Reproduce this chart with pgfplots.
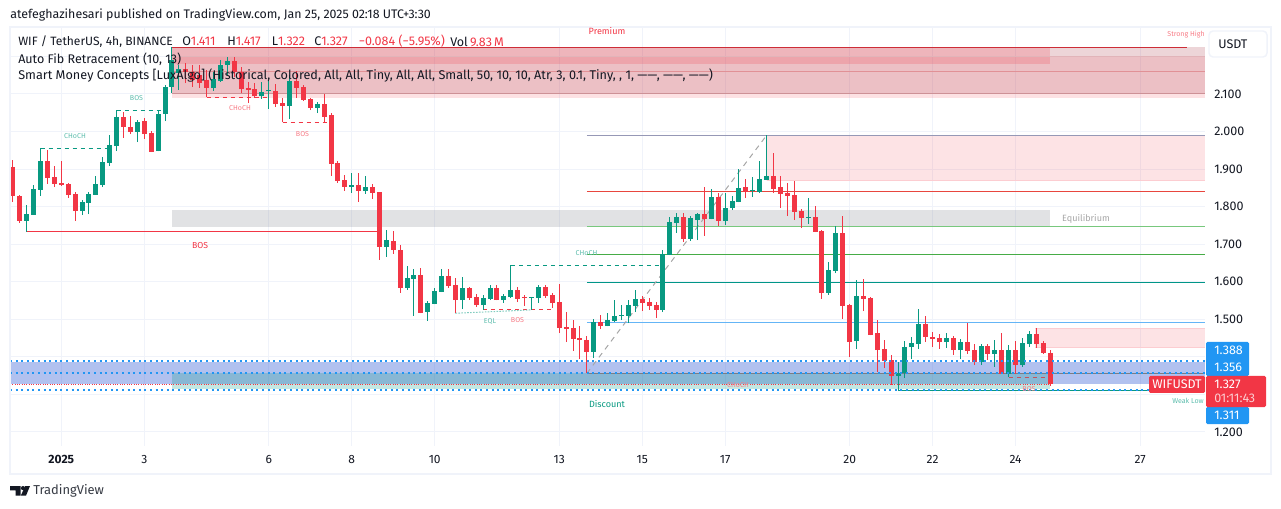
\documentclass[border=0pt]{standalone}
\usepackage{fontspec}
\setmainfont{Fira Sans}
\usepackage{pgfplots}
\usepackage{pgfplotstable}
\pgfplotsset{compat=1.18}
\definecolor{up}{RGB}{8,153,129}
\definecolor{down}{RGB}{242,54,69}
\definecolor{tvblue}{RGB}{33,150,243}
\definecolor{gridc}{RGB}{240,243,250}
\definecolor{ink}{RGB}{19,23,34}

% 4h candles, i = 0 is the Jan 1 tick
\pgfplotstableread{
i O H L C
-7 1.906 1.924 1.813 1.827
-6 1.828 1.830 1.757 1.763
-5 1.763 1.804 1.733 1.780
-4 1.778 1.858 1.778 1.847
-3 1.845 1.956 1.829 1.922
-2 1.922 1.951 1.861 1.877
-1 1.879 1.908 1.852 1.861
0 1.863 1.922 1.855 1.858
1 1.860 1.863 1.823 1.832
2 1.834 1.839 1.762 1.788
3 1.788 1.818 1.778 1.812
4 1.810 1.839 1.780 1.834
5 1.831 1.882 1.831 1.860
6 1.858 1.932 1.852 1.919
7 1.916 1.991 1.908 1.964
8 1.961 2.057 1.948 2.039
9 2.039 2.052 1.983 2.012
10 2.012 2.041 1.993 1.999
11 1.999 2.031 1.972 2.025
12 2.028 2.036 1.980 1.993
13 1.996 2.001 1.945 1.946
14 1.948 2.057 1.947 2.047
15 2.047 2.124 2.028 2.119
16 2.119 2.225 2.103 2.191
17 2.157 2.177 2.111 2.167
18 2.167 2.183 2.129 2.158
19 2.158 2.177 2.119 2.137
20 2.151 2.177 2.116 2.129
21 2.137 2.164 2.092 2.116
22 2.116 2.158 2.108 2.140
23 2.135 2.191 2.132 2.177
24 2.177 2.199 2.151 2.188
25 2.188 2.199 2.145 2.158
26 2.158 2.172 2.103 2.113
27 2.116 2.132 2.076 2.111
28 2.113 2.129 2.089 2.095
29 2.095 2.132 2.087 2.105
30 2.107 2.137 2.060 2.110
31 2.108 2.127 2.065 2.073
32 2.076 2.089 2.025 2.068
33 2.068 2.151 2.033 2.135
34 2.135 2.161 2.089 2.116
35 2.119 2.124 2.081 2.084
36 2.087 2.089 2.057 2.063
37 2.063 2.079 2.049 2.073
38 2.073 2.100 2.025 2.039
39 2.044 2.049 1.882 1.914
40 1.916 1.922 1.864 1.868
41 1.871 1.884 1.842 1.853
42 1.852 1.890 1.837 1.858
43 1.858 1.890 1.813 1.842
44 1.842 1.882 1.834 1.852
45 1.852 1.860 1.821 1.837
46 1.839 1.840 1.659 1.693
47 1.692 1.738 1.667 1.711
48 1.709 1.735 1.674 1.685
49 1.685 1.698 1.571 1.584
50 1.584 1.641 1.579 1.610
51 1.608 1.634 1.510 1.618
52 1.618 1.637 1.516 1.517
53 1.520 1.549 1.496 1.543
54 1.541 1.583 1.540 1.575
55 1.573 1.634 1.572 1.615
56 1.615 1.634 1.584 1.589
57 1.591 1.610 1.517 1.551
58 1.551 1.613 1.527 1.583
59 1.583 1.586 1.552 1.557
60 1.559 1.567 1.533 1.538
61 1.538 1.565 1.525 1.557
62 1.554 1.591 1.551 1.583
63 1.583 1.591 1.550 1.551
64 1.551 1.567 1.544 1.562
65 1.559 1.645 1.557 1.578
66 1.578 1.586 1.546 1.554
67 1.559 1.565 1.536 1.557
68 1.557 1.560 1.525 1.559
69 1.557 1.591 1.544 1.586
70 1.586 1.591 1.557 1.562
71 1.565 1.570 1.530 1.543
72 1.546 1.594 1.463 1.477
73 1.479 1.519 1.439 1.474
74 1.477 1.498 1.416 1.447
75 1.450 1.482 1.394 1.445
76 1.445 1.455 1.357 1.413
77 1.413 1.501 1.397 1.493
78 1.493 1.511 1.474 1.482
79 1.482 1.517 1.481 1.498
80 1.495 1.551 1.494 1.509
81 1.510 1.538 1.498 1.511
82 1.509 1.551 1.490 1.538
83 1.535 1.578 1.519 1.554
84 1.554 1.562 1.522 1.543
85 1.546 1.557 1.525 1.535
86 1.538 1.546 1.503 1.525
87 1.525 1.685 1.519 1.674
88 1.672 1.772 1.671 1.759
89 1.756 1.783 1.731 1.772
90 1.772 1.783 1.707 1.715
91 1.715 1.775 1.709 1.770
92 1.764 1.782 1.711 1.781
93 1.780 1.852 1.722 1.767
94 1.767 1.847 1.766 1.826
95 1.826 1.837 1.748 1.762
96 1.762 1.837 1.751 1.796
97 1.796 1.828 1.791 1.815
98 1.812 1.900 1.811 1.849
99 1.852 1.874 1.823 1.839
100 1.842 1.879 1.826 1.844
101 1.839 1.922 1.836 1.874
102 1.871 1.991 1.870 1.882
103 1.882 1.943 1.836 1.847
104 1.852 1.882 1.796 1.834
105 1.836 1.863 1.775 1.828
106 1.831 1.868 1.764 1.786
107 1.788 1.794 1.743 1.770
108 1.770 1.823 1.754 1.772
109 1.772 1.802 1.732 1.733
110 1.735 1.738 1.554 1.570
111 1.570 1.653 1.565 1.631
112 1.629 1.748 1.623 1.730
113 1.730 1.775 1.501 1.535
114 1.538 1.541 1.399 1.439
115 1.442 1.605 1.421 1.562
116 1.562 1.607 1.522 1.554
117 1.557 1.559 1.457 1.458
118 1.463 1.498 1.360 1.418
119 1.421 1.445 1.370 1.389
120 1.392 1.405 1.325 1.349
121 1.349 1.387 1.312 1.357
122 1.357 1.442 1.344 1.426
123 1.426 1.453 1.394 1.437
124 1.434 1.527 1.421 1.487
125 1.487 1.509 1.439 1.453
126 1.453 1.466 1.426 1.447
127 1.450 1.461 1.421 1.439
128 1.439 1.463 1.424 1.450
129 1.450 1.455 1.405 1.418
130 1.418 1.447 1.394 1.439
131 1.439 1.490 1.408 1.416
132 1.418 1.434 1.378 1.386
133 1.386 1.434 1.378 1.429
134 1.429 1.434 1.392 1.408
135 1.408 1.445 1.373 1.418
136 1.418 1.463 1.354 1.355
137 1.355 1.431 1.347 1.418
138 1.418 1.442 1.355 1.378
139 1.378 1.450 1.373 1.437
140 1.434 1.469 1.426 1.461
141 1.461 1.477 1.424 1.434
142 1.437 1.442 1.408 1.411
143 1.411 1.417 1.322 1.327
}\candles

\pgfplotsset{
  zone/.style={draw=none, forget plot},
  lvl/.style={forget plot, mark=none, line width=0.75pt},
  smc/.style={forget plot, mark=none, line width=0.75pt, dash pattern=on 3pt off 3pt},
  bar/.style={draw=none, mark=none, forget plot},
}
\tikzset{
  lbl/.style={inner sep=0pt, font=\fontsize{5.3}{6}\selectfont},
  leg/.style={inner sep=0pt, anchor=west, text=ink, font=\fontsize{9.4}{11}\selectfont},
  price/.style={inner sep=0pt, anchor=west, text=white, font=\fontsize{9.4}{11}\selectfont},
}

\begin{document}
\begin{tikzpicture}[x=0.75pt, y=-0.75pt]
\path[use as bounding box] (0,0) rectangle (1281,509);
\begin{axis}[
  at={(7.5pt,-334.5pt)}, anchor=south west,
  scale only axis, width=896.25pt, height=314.25pt,
  xmin=-7.42, xmax=165.39, ymin=1.1625, ymax=2.2784,
  axis line style={draw=none}, major tick length=0pt,
  xmajorgrids, ymajorgrids,
  grid style={draw=gridc, line width=0.75pt},
  xtick={0,12,30,42,54,72,84,96,114,126,138,156},
  xticklabels={\textbf{2025},3,6,8,10,13,15,17,20,22,24,27},
  xticklabel style={anchor=center, yshift=-10pt, text=ink, font=\fontsize{9}{11}\selectfont},
  ytick={1.2,1.3,1.4,1.5,1.6,1.7,1.8,1.9,2.0,2.1,2.2},
  yticklabels={1.200,,,1.500,1.600,1.700,1.800,1.900,2.000,2.100,},
  yticklabel pos=right,
  yticklabel style={anchor=west, inner sep=0pt, xshift=6.75pt, text=ink, font=\fontsize{9.4}{11}\selectfont},
]
% premium area and fib background
\addplot[zone, fill=down, fill opacity=.15] coordinates {(16,2.224)(165.39,2.224)(165.39,2.090)(16,2.090)} --cycle;
\addplot[zone, fill={rgb,255:red,120;green,123;blue,134}, fill opacity=.12] coordinates {(16,2.224)(165.39,2.224)(165.39,2.199)(16,2.199)} --cycle;
\addplot[zone, fill={rgb,255:red,170;green,60;blue,75}, fill opacity=.2] coordinates {(16,2.199)(165.39,2.199)(165.39,2.101)(16,2.101)} --cycle;
\addplot[zone, fill=down, fill opacity=.2] coordinates {(16,2.224)(143,2.224)(143,2.180)(16,2.180)} --cycle;
\addplot[lvl, color={rgb,255:red,225;green,180;blue,185}] coordinates {(16,2.199)(165.39,2.199)};
\addplot[lvl, color={rgb,255:red,225;green,145;blue,150}] coordinates {(16,2.160)(165.39,2.160)};
\addplot[lvl, color={rgb,255:red,205;green,145;blue,150}] coordinates {(16,2.101)(165.39,2.101)};
\addplot[lvl, color={rgb,255:red,205;green,45;blue,55}] coordinates {(16,2.224)(162.8,2.224)};
% equilibrium
\addplot[zone, fill={rgb,255:red,120;green,123;blue,134}, fill opacity=.22] coordinates {(16,1.791)(143,1.791)(143,1.746)(16,1.746)} --cycle;
% blue band and discount
\addplot[zone, fill={rgb,255:red,60;green,100;blue,215}, fill opacity=.4] coordinates {(-7.42,1.386)(165.39,1.386)(165.39,1.327)(-7.42,1.327)} --cycle;
\addplot[zone, fill=up, fill opacity=.24] coordinates {(16,1.358)(143,1.358)(143,1.314)(16,1.314)} --cycle;
% order blocks
\addplot[zone, fill=down, fill opacity=.14] coordinates {(102,1.990)(165.39,1.990)(165.39,1.871)(102,1.871)} --cycle;
\addplot[zone, fill=down, fill opacity=.14] coordinates {(140.8,1.477)(165.39,1.477)(165.39,1.426)(140.8,1.426)} --cycle;
\addplot[lvl, color=down!25, line width=.5pt] coordinates {(102,1.871)(165.39,1.871)};
\addplot[lvl, color=down!25, line width=.5pt] coordinates {(140.8,1.477)(165.39,1.477)};
\addplot[lvl, color=down!25, line width=.5pt] coordinates {(140.8,1.426)(165.39,1.426)};
% fib levels
\addplot[lvl, color={rgb,255:red,150;green,152;blue,182}] coordinates {(76,1.990)(165.39,1.990)};
\addplot[lvl, color={rgb,255:red,232;green,70;blue,62}] coordinates {(76,1.840)(165.39,1.840)};
\addplot[lvl, color={rgb,255:red,120;green,200;blue,125}] coordinates {(76,1.748)(165.39,1.748)};
\addplot[lvl, color={rgb,255:red,70;green,172;blue,70}] coordinates {(76,1.673)(165.39,1.673)};
\addplot[lvl, color={rgb,255:red,0;green,150;blue,136}] coordinates {(76,1.598)(165.39,1.598)};
\addplot[lvl, color={rgb,255:red,100;green,181;blue,246}] coordinates {(76,1.492)(165.39,1.492)};
\addplot[lvl, color={rgb,255:red,125;green,125;blue,130}] coordinates {(76,1.356)(165.39,1.356)};
\addplot[forget plot, mark=none, line width=0.75pt, color=gray!70, dash pattern=on 4pt off 3.5pt] coordinates {(76,1.356)(102,1.990)};
% structure breaks
\addplot[lvl, color=down] coordinates {(-5,1.735)(46,1.735)};
\addplot[smc, color=up] coordinates {(-3,1.956)(7,1.956)};
\addplot[smc, color=up] coordinates {(8,2.056)(14.5,2.056)};
\addplot[smc, color=down] coordinates {(21,2.091)(30,2.091)};
\addplot[smc, color=down] coordinates {(32,2.025)(39,2.025)};
\addplot[smc, color=up] coordinates {(65,1.644)(87,1.644)};
\addplot[smc, color=down] coordinates {(61,1.527)(71,1.527)};
\addplot[forget plot, mark=none, line width=0.75pt, color=up!50, dash pattern=on 1.2pt off 1pt] coordinates {(57,1.516)(68,1.525)};
\addplot[smc, color=down!60!gray] coordinates {(137,1.346)(143,1.346)};
\addplot[lvl, color=up] coordinates {(121,1.311)(165.39,1.311)};
% candles: wicks then bodies, rising and falling apart
\addplot[bar, error bars/.cd, y dir=plus, y explicit, error mark=none,
  error bar style={draw=up, solid, line width=0.75pt}]
  table[x expr={\thisrow{C}>=\thisrow{O} ? \thisrow{i} : nan}, y=L, y error expr=\thisrow{H}-\thisrow{L}] {\candles};
\addplot[bar, error bars/.cd, y dir=plus, y explicit, error mark=none,
  error bar style={draw=down, solid, line width=0.75pt}]
  table[x expr={\thisrow{C}<\thisrow{O} ? \thisrow{i} : nan}, y=L, y error expr=\thisrow{H}-\thisrow{L}] {\candles};
\addplot[bar, error bars/.cd, y dir=plus, y explicit, error mark=none,
  error bar style={draw=up, solid, line width=3.75pt}]
  table[x expr={\thisrow{C}>=\thisrow{O} ? \thisrow{i} : nan}, y=O, y error expr=\thisrow{C}-\thisrow{O}] {\candles};
\addplot[bar, error bars/.cd, y dir=plus, y explicit, error mark=none,
  error bar style={draw=down, solid, line width=3.75pt}]
  table[x expr={\thisrow{C}<\thisrow{O} ? \thisrow{i} : nan}, y=C, y error expr=\thisrow{O}-\thisrow{C}] {\candles};
% price lines
\addplot[forget plot, mark=none, color=tvblue, line width=1.5pt, dash pattern=on 1.5pt off 2.7pt] coordinates {(-7.42,1.388)(165.39,1.388)};
\addplot[forget plot, mark=none, color=tvblue, line width=1.5pt, dash pattern=on 1.5pt off 2.7pt] coordinates {(-7.42,1.356)(165.39,1.356)};
\addplot[forget plot, mark=none, color=tvblue, line width=1.5pt, dash pattern=on 1.5pt off 2.7pt] coordinates {(-7.42,1.311)(165.39,1.311)};
\addplot[forget plot, mark=none, color=down, line width=0.45pt, dash pattern=on .75pt off 1pt] coordinates {(-7.42,1.327)(143,1.327)};
\end{axis}
% frame
\draw[gridc, line width=1.5pt] (10,27) rectangle (1271,474);
% smc and zone labels
\node[lbl, text=up!65] at (75,136) {CHoCH};
\node[lbl, text=up!65] at (136.5,98.5) {BOS};
\node[lbl, text=down!65] at (240,108.5) {CHoCH};
\node[lbl, text=down!65] at (302.5,134.5) {BOS};
\node[lbl, text=down, font=\fontsize{6.5}{8}\selectfont] at (200,245.5) {BOS};
\node[lbl, text=up!65] at (586.5,253.5) {CHoCH};
\node[lbl, text=up!65] at (490,321) {EQL};
\node[lbl, text=down!65] at (517.5,320.5) {BOS};
\node[lbl, text=down!65] at (738,385) {CHoCH};
\node[lbl, text=down!65] at (1029,389.5) {BOS};
\node[lbl, text=down!65, anchor=east] at (1205,34.5) {Strong High};
\node[lbl, text=up!65, anchor=east] at (1204,401) {Weak Low};
\node[lbl, text=down, font=\fontsize{6.8}{8}\selectfont] at (607,31) {Premium};
\node[lbl, text=up, font=\fontsize{6.8}{8}\selectfont] at (607,404.5) {Discount};
\node[lbl, text=gray!70, font=\fontsize{6.8}{8}\selectfont] at (1086,218.5) {Equilibrium};
% header and legend
\node[leg, font=\fontsize{9.3}{11}\selectfont] at (10,15) {atefeghazihesari published on TradingView.com, Jan 25, 2025 02:18 UTC+3:30};
\node[leg, font=\fontsize{9.05}{11}\selectfont] at (18,41.5) {WIF / TetherUS, 4h, BINANCE};
\node[leg] at (182,41.5) {O\textcolor{down}{1.411}};
\node[leg] at (227,41.5) {H\textcolor{down}{1.417}};
\node[leg] at (271.5,41.5) {L\textcolor{down}{1.322}};
\node[leg] at (314,41.5) {C\textcolor{down}{1.327}};
\node[leg, text=down] at (358.5,41.5) {−0.084 (−5.95\%)};
\node[leg] at (450,41.5) {Vol\,\textcolor{down}{9.83\,M}};
\node[leg] at (18,59) {Auto Fib Retracement (10, 13)};
\node[leg, font=\fontsize{9.5}{11}\selectfont] at (18,76) {Smart Money Concepts [LuxAlgo] (Historical, Colored, All, All, Tiny, All, All, Small, 50, 10, 10, Atr, 3, 0.1, Tiny, , 1, ——, ——, ——)};
% price scale
\draw[gridc, line width=1.1pt, fill=white, rounded corners=3pt] (1209,31) rectangle (1267,57);
\node[leg] at (1218,44.5) {USDT};
\fill[tvblue, rounded corners=1pt] (1206,342) rectangle (1249,376);
\fill[tvblue, rounded corners=1pt] (1206,407) rectangle (1249,424);
\fill[down, rounded corners=1pt] (1149,376) rectangle (1205,393);
\fill[down, rounded corners=1pt] (1206,376) rectangle (1266,407);
\node[price] at (1214,350.5) {1.388};
\node[price] at (1214,367.5) {1.356};
\node[price] at (1214,384.5) {1.327};
\node[price, text=white!75!down] at (1214,398.5) {01:11:43};
\node[price] at (1214,415.5) {1.311};
\node[price, anchor=center] at (1177,384.5) {WIFUSDT};
% logo and footer
\fill[ink] (10,486) -- (20.5,486) -- (20.5,495.7) -- (15.5,495.7) -- (15.5,490.3) -- (10,490.3) -- cycle;
\fill[ink] (23,488.1) circle (2.1);
\fill[ink] (25.2,486) -- (30,486) -- (26,495.7) -- (20.8,495.7) -- cycle;
\node[leg, text=ink!85, font=\fontsize{9.7}{12}\selectfont] at (33,491) {TradingView};
\end{tikzpicture}
\end{document}
